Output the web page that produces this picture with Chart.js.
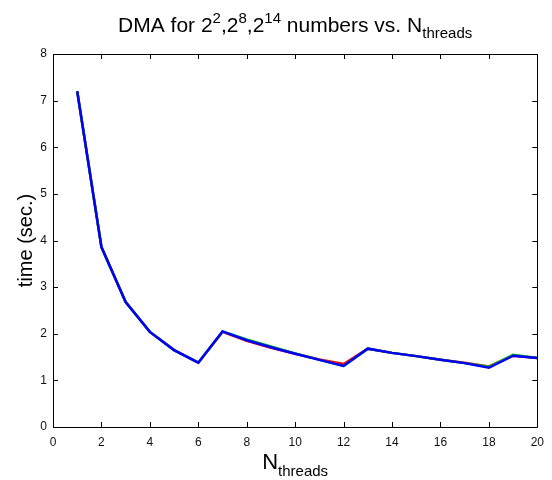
<!DOCTYPE html>
<html>
<head>
<meta charset="utf-8">
<script src="https://cdn.jsdelivr.net/npm/chart.js@4/dist/chart.umd.min.js"></script>
<style>
html,body{margin:0;padding:0;background:#fff;}
#wrap{width:552px;height:480px;}
</style>
</head>
<body>
<div id="wrap"><canvas id="c" width="552" height="480"></canvas></div>
<script>
// ---- data ----
const nThreads = [1,2,3,4,5,6,7,8,9,10,11,12,13,14,15,16,17,18,19,20];
const time_2_2  = [7.20,3.86,2.68,2.04,1.65,1.38,2.04,1.85,1.70,1.57,1.45,1.35,1.68,1.59,1.52,1.44,1.38,1.30,1.53,1.48]; // red
const time_2_8  = [7.20,3.86,2.68,2.04,1.65,1.38,2.05,1.88,1.73,1.58,1.44,1.31,1.68,1.59,1.52,1.44,1.37,1.29,1.55,1.48]; // green
const time_2_14 = [7.20,3.86,2.68,2.04,1.65,1.38,2.05,1.86,1.71,1.57,1.44,1.31,1.68,1.59,1.52,1.44,1.37,1.27,1.53,1.48]; // blue
const xTicks = [0,2,4,6,8,10,12,14,16,18,20];
const yTicks = [0,1,2,3,4,5,6,7,8];
const titleRuns = [
  {t:'DMA for 2', s:'n'},{t:'2', s:'sup'},{t:',2', s:'n'},{t:'8', s:'sup'},
  {t:',2', s:'n'},{t:'14', s:'sup'},{t:' numbers vs. N', s:'n'},{t:'threads', s:'sub'}
];
const xLabelRuns = [{t:'N', s:'n'},{t:'threads', s:'sub'}];
const yLabel = 'time (sec.)';

const FONT = "'Liberation Sans', Arial, Helvetica, sans-serif";

function pts(ys){ return nThreads.map((x,i)=>({x:x,y:ys[i]})); }

function drawRuns(ctx, runs, cx, baseline, mainSize, smallSize){
  const fontFor = s => (s==='n' ? mainSize : smallSize) + 'px ' + FONT;
  let w = 0;
  runs.forEach(r=>{ ctx.font = fontFor(r.s); w += ctx.measureText(r.t).width; });
  let x = cx - w/2;
  ctx.fillStyle = '#000';
  ctx.textBaseline = 'alphabetic';
  ctx.textAlign = 'left';
  runs.forEach(r=>{
    ctx.font = fontFor(r.s);
    let y = baseline;
    if (r.s==='sup') y = baseline - mainSize*0.45;
    if (r.s==='sub') y = baseline + mainSize*0.30;
    ctx.fillText(r.t, x, y);
    x += ctx.measureText(r.t).width;
  });
}

const boxPlugin = {
  id:'boxPlugin',
  afterDraw(chart){
    const ctx = chart.ctx, a = chart.chartArea;
    const xs = chart.scales.x, ys = chart.scales.y;
    ctx.save();
    ctx.strokeStyle = '#000';
    ctx.lineWidth = 1;
    ctx.beginPath();
    ctx.rect(Math.round(a.left)+0.5, Math.round(a.top)+0.5, Math.round(a.right-a.left), Math.round(a.bottom-a.top));
    ctx.stroke();
    const tl = 5;
    ctx.beginPath();
    xTicks.forEach(v=>{
      const px = Math.round(xs.getPixelForValue(v))+0.5;
      ctx.moveTo(px, a.bottom); ctx.lineTo(px, a.bottom - tl);
      ctx.moveTo(px, a.top); ctx.lineTo(px, a.top + tl);
    });
    yTicks.forEach(v=>{
      const py = Math.round(ys.getPixelForValue(v))+0.5;
      ctx.moveTo(a.left, py); ctx.lineTo(a.left + tl, py);
      ctx.moveTo(a.right, py); ctx.lineTo(a.right - tl, py);
    });
    ctx.stroke();
    // title and x label with super/subscripts
    const cx = (a.left + a.right)/2;
    drawRuns(ctx, titleRuns, cx, 32, 21, 15);
    drawRuns(ctx, xLabelRuns, cx, 469, 22, 15);
    ctx.restore();
  }
};

new Chart(document.getElementById('c'), {
  type:'line',
  data:{
    datasets:[
      {label:'2^2', data:pts(time_2_2), borderColor:'#ff0000', borderWidth:2.5, pointRadius:0, tension:0, order:2},
      {label:'2^8', data:pts(time_2_8), borderColor:'#00c000', borderWidth:2.5, pointRadius:0, tension:0, order:1},
      {label:'2^14', data:pts(time_2_14), borderColor:'#0000ff', borderWidth:2.5, pointRadius:0, tension:0, order:0}
    ]
  },
  options:{
    responsive:false,
    animation:false,
    layout:{padding:{left:0,right:7,top:54,bottom:0}},
    plugins:{legend:{display:false}, title:{display:false}, tooltip:{enabled:false}},
    scales:{
      x:{
        type:'linear', min:0, max:20,
        afterBuildTicks(s){ s.ticks = xTicks.map(v=>({value:v})); },
        afterFit(s){ s.height = 53; },
        grid:{display:false, drawTicks:false}, border:{display:false},
        ticks:{color:'#111', font:{family:FONT, size:12}, padding:8, maxRotation:0, autoSkip:false}
      },
      y:{
        type:'linear', min:0, max:8,
        afterBuildTicks(s){ s.ticks = yTicks.map(v=>({value:v})); },
        afterFit(s){ s.width = 53; },
        grid:{display:false, drawTicks:false}, border:{display:false},
        ticks:{color:'#111', font:{family:FONT, size:12}, padding:6, autoSkip:false},
        title:{display:true, text:yLabel, color:'#000', font:{family:FONT, size:20}, padding:{top:14,bottom:0}}
      }
    }
  },
  plugins:[boxPlugin]
});
</script>
</body>
</html>
